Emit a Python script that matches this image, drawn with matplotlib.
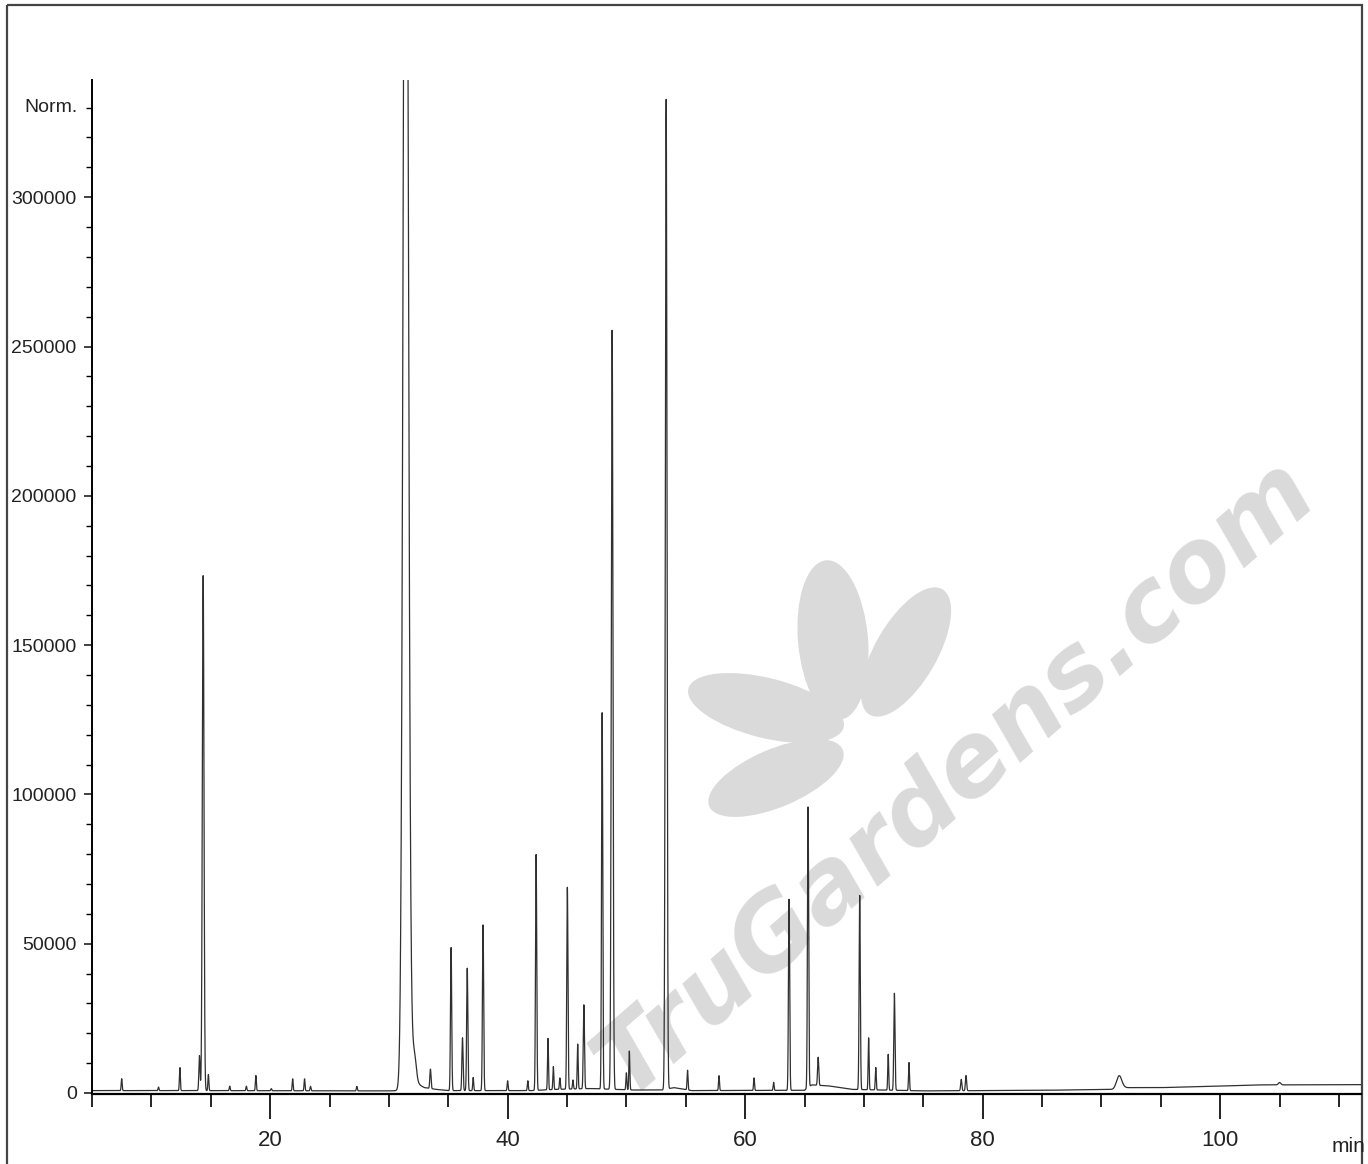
import numpy as np
import matplotlib
matplotlib.use("Agg")
import matplotlib.pyplot as plt
from matplotlib.patches import Rectangle, Ellipse
from matplotlib.ticker import FixedLocator, MultipleLocator

# ---------------- data ----------------
peak_rt = [7.5, 10.6, 12.4, 14.05, 14.36, 14.8, 16.6, 18.0, 18.8, 20.1, 21.9, 22.9,
           23.4, 27.3, 31.42, 31.9, 32.2, 33.5, 35.24, 36.2, 36.6, 37.1, 37.93,
           40.0, 41.7, 42.4, 43.4, 43.85, 44.4, 45.03, 45.5, 45.9, 46.42, 47.96,
           48.8, 50.0, 50.25, 53.35, 55.15, 57.8, 60.75, 62.4, 63.7, 65.3, 66.15,
           69.65, 70.4, 71.0, 72.05, 72.57, 73.8, 78.2, 78.6, 91.5, 105.0]
peak_height = [4000, 1200, 7700, 11700, 172500, 5400, 1500, 1500, 5100, 700, 4000, 4000,
               1500, 1500, 530000, 12000, 4000, 6500, 47900, 17700, 41000, 4400, 55500,
               3300, 3300, 79000, 17200, 7700, 3800, 67600, 3000, 15000, 28100, 126000,
               254200, 5700, 13000, 331500, 6600, 5000, 4200, 2700, 64000, 94000, 9400,
               65000, 17400, 7500, 12000, 32500, 9400, 3800, 5100, 4300, 800]
peak_sigma = [0.04, 0.04, 0.04, 0.05, 0.07, 0.04, 0.04, 0.04, 0.04, 0.04, 0.04, 0.04,
              0.04, 0.04, 0.20, 0.25, 0.12, 0.05, 0.05, 0.05, 0.05, 0.04, 0.05,
              0.04, 0.04, 0.05, 0.04, 0.04, 0.04, 0.05, 0.04, 0.04, 0.05, 0.05,
              0.07, 0.04, 0.04, 0.07, 0.04, 0.04, 0.04, 0.04, 0.05, 0.05, 0.05,
              0.05, 0.04, 0.04, 0.04, 0.05, 0.04, 0.05, 0.05, 0.22, 0.1]

baseline_rt = [5.0, 14.0, 30.0, 31.0, 32.4, 33.0, 34.0, 35.0, 42.0, 44.0, 47.0, 50.5,
               53.0, 54.0, 55.5, 65.0, 65.6, 67.0, 69.0, 75.0, 85.0, 91.0, 92.0, 95.0,
               100.0, 103.0, 112.0]
baseline_level = [800, 800, 700, 800, 3000, 1800, 1200, 800, 800, 1200, 1500, 1000,
                  1000, 1800, 800, 900, 2700, 2400, 1200, 700, 900, 1200, 1800, 1800,
                  2300, 2700, 2800]

x_major = [20, 40, 60, 80, 100]
x_labels = ["20", "40", "60", "80", "100"]
y_major = [0, 50000, 100000, 150000, 200000, 250000, 300000]
y_labels = ["0", "50000", "100000", "150000", "200000", "250000", "300000"]

# ---------------- figure ----------------
W, H = 1368, 1164
fig = plt.figure(figsize=(W / 100, H / 100), dpi=100)
fig.patch.set_facecolor("white")

# overlay for watermark and frame (pixel coordinates)
bg = fig.add_axes([0, 0, 1, 1], zorder=0)
bg.set_xlim(0, W)
bg.set_ylim(H, 0)
bg.axis("off")

wm = "#dadada"
leaves = [  # (cx, cy, length, width, visual angle)
    (833, 640, 160, 70, 95),
    (906, 652, 145, 62, 60),
    (766, 708, 160, 60, 166),
    (776, 778, 145, 58, 203),
]
for cx, cy, L, Wd, a in leaves:
    bg.add_patch(Ellipse((cx, cy), L, Wd, angle=-a, color=wm, lw=0))
bg.text(955, 778, "TruGardens.com", fontsize=72, fontweight="bold", fontstyle="italic",
        family="DejaVu Sans", color=wm, rotation=41, rotation_mode="anchor",
        ha="center", va="center")

bg.add_patch(Rectangle((7, 5), 1355, 1200, fill=False, ec="#444444", lw=1.6))

# main axes
left, right, top, bottom = 92, 1361, 80, 1094
ax = fig.add_axes([left / W, (H - bottom) / H, (right - left) / W, (bottom - top) / H], zorder=1)
ax.set_facecolor("none")

t = np.linspace(5.0, 112.0, 60000)
signal = np.interp(t, baseline_rt, baseline_level)
for rt, h, s in zip(peak_rt, peak_height, peak_sigma):
    signal = signal + h * np.exp(-0.5 * ((t - rt) / s) ** 2)
ax.plot(t, signal, color="#303030", lw=0.9)

ax.set_xlim(5.0, 5.0 + (right - left) / 11.875)
ax.set_ylim(-335, 339250)

for sp in ["top", "right"]:
    ax.spines[sp].set_visible(False)
ax.spines["bottom"].set_linewidth(1.6)
ax.spines["left"].set_linewidth(1.4)

font = ["Liberation Sans", "DejaVu Sans"]

ax.xaxis.set_major_locator(FixedLocator(x_major))
ax.set_xticklabels(x_labels)
ax.xaxis.set_minor_locator(MultipleLocator(5))
ax.yaxis.set_major_locator(FixedLocator(y_major))
ax.set_yticklabels(y_labels)
ax.yaxis.set_minor_locator(MultipleLocator(10000))

ax.tick_params(axis="x", which="major", direction="out", length=18, width=1.4, pad=8,
               labelsize=16, colors="#222222")
ax.tick_params(axis="x", which="minor", direction="out", length=9, width=1.2)
ax.tick_params(axis="y", which="major", direction="out", length=6, width=1.2, pad=5,
               labelsize=14, colors="#222222")
ax.tick_params(axis="y", which="minor", direction="out", length=4, width=1.0)
for lab in ax.get_xticklabels() + ax.get_yticklabels():
    lab.set_family(font)

fig.text(78 / W, 1 - 108 / H, "Norm.", ha="right", va="center", fontsize=14,
         family=font, color="#222222")
fig.text(1365 / W, 1 - 1146 / H, "min", ha="right", va="center", fontsize=15,
         family=font, color="#222222")

fig.savefig("out.png", dpi=100)
